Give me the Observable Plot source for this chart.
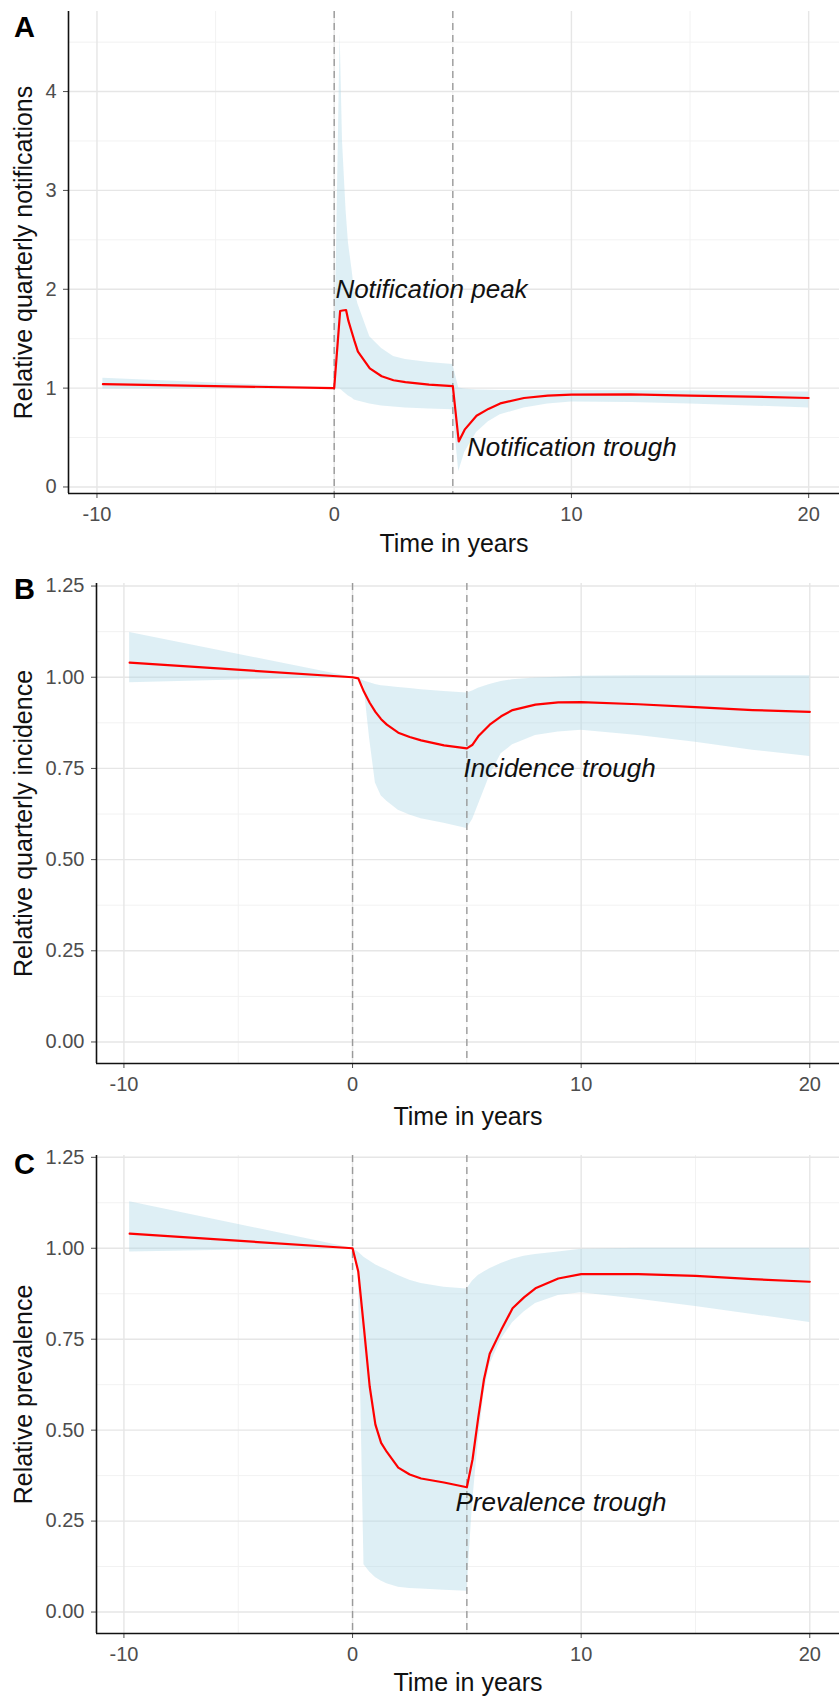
<!DOCTYPE html>
<html>
<head>
<meta charset="utf-8">
<script src="https://cdn.jsdelivr.net/npm/d3@7"></script>
<script src="https://cdn.jsdelivr.net/npm/@observablehq/plot@0.6"></script>
<style>
  html, body { margin: 0; padding: 0; background: white; }
  #chart svg { display: block; }
</style>
</head>
<body>
<div id="chart"></div>
<script>
// ---- shared axis values ----
const xMajor = [-10, 0, 10, 20];
const xMinor = [-5, 5, 15];
const interventionLines = [0, 5];
const xLabel = "Time in years";

// ---- Panel A: notifications ----
const aTime = [-9.75, 0, 0.25, 0.35, 0.5, 0.6, 0.75, 0.85, 1, 1.5, 2, 2.5, 3, 4, 5, 5.25, 5.5, 6, 6.5, 7, 8, 9, 10, 12.5, 15, 17.5, 20];
const aMid  = [1.04, 1.0, 1.78, 1.785, 1.79, 1.68, 1.56, 1.48, 1.37, 1.2, 1.12, 1.08, 1.06, 1.035, 1.02, 0.46, 0.58, 0.72, 0.79, 0.845, 0.9, 0.925, 0.935, 0.937, 0.925, 0.915, 0.90];
const aLow  = [0.99, 1.0, 0.99, 0.97, 0.94, 0.92, 0.9, 0.88, 0.87, 0.84, 0.82, 0.81, 0.8, 0.79, 0.78, 0.156, 0.35, 0.55, 0.66, 0.73, 0.8, 0.84, 0.86, 0.855, 0.84, 0.82, 0.80];
const aHigh = [1.10, 1.0, 4.59, 3.5, 2.8, 2.47, 2.2, 2.0, 1.85, 1.52, 1.4, 1.32, 1.29, 1.26, 1.24, 1.0, 0.99, 0.98, 0.978, 0.976, 0.975, 0.975, 0.975, 0.974, 0.97, 0.965, 0.96];
const aYMajor = [0, 1, 2, 3, 4];
const aYMinor = [0.5, 1.5, 2.5, 3.5, 4.5];
const aYLabel = "Relative quarterly notifications";
const aNotes = [{t: 0.05, v: 2.0, label: "Notification peak"}, {t: 5.6, v: 0.4, label: "Notification trough"}];

// ---- Panel B: incidence ----
const bTime = [-9.75, 0, 0.25, 0.5, 0.75, 1, 1.25, 1.5, 2, 2.5, 3, 4, 5, 5.25, 5.5, 6, 6.5, 7, 8, 9, 10, 12.5, 15, 17.5, 20];
const bMid  = [1.04, 1.0, 0.997, 0.96, 0.93, 0.905, 0.885, 0.87, 0.848, 0.836, 0.827, 0.813, 0.805, 0.815, 0.838, 0.87, 0.893, 0.91, 0.925, 0.931, 0.932, 0.926, 0.918, 0.91, 0.905];
const bLow  = [0.985, 1.0, 0.995, 0.975, 0.83, 0.71, 0.675, 0.66, 0.635, 0.622, 0.612, 0.60, 0.585, 0.61, 0.65, 0.73, 0.79, 0.815, 0.84, 0.85, 0.855, 0.84, 0.822, 0.80, 0.783];
const bHigh = [1.123, 1.0, 0.998, 0.99, 0.985, 0.98, 0.977, 0.975, 0.972, 0.969, 0.966, 0.961, 0.957, 0.962, 0.97, 0.98, 0.988, 0.993, 0.998, 1.0, 1.003, 1.004, 1.004, 1.004, 1.004];
const bcYMajor = [0, 0.25, 0.5, 0.75, 1, 1.25];
const bcYMinor = [0.125, 0.375, 0.625, 0.875, 1.125];
const bYLabel = "Relative quarterly incidence";
const bNotes = [{t: 4.85, v: 0.75, label: "Incidence trough"}];

// ---- Panel C: prevalence ----
const cTime = [-9.75, 0, 0.25, 0.5, 0.75, 1, 1.25, 1.5, 2, 2.5, 3, 4, 5, 5.25, 5.5, 5.75, 6, 6.5, 7, 7.5, 8, 9, 10, 12.5, 15, 17.5, 20];
const cMid  = [1.04, 1.0, 0.936, 0.78, 0.62, 0.515, 0.465, 0.44, 0.397, 0.378, 0.367, 0.356, 0.343, 0.42, 0.535, 0.64, 0.71, 0.775, 0.835, 0.865, 0.89, 0.917, 0.929, 0.929, 0.924, 0.915, 0.908];
const cLow  = [0.99, 1.0, 0.95, 0.13, 0.11, 0.095, 0.085, 0.078, 0.068, 0.065, 0.063, 0.06, 0.057, 0.30, 0.47, 0.60, 0.68, 0.75, 0.795, 0.825, 0.848, 0.87, 0.878, 0.86, 0.84, 0.818, 0.796];
const cHigh = [1.128, 1.0, 0.99, 0.975, 0.965, 0.955, 0.947, 0.94, 0.925, 0.912, 0.903, 0.893, 0.888, 0.91, 0.925, 0.935, 0.944, 0.958, 0.97, 0.978, 0.983, 0.99, 0.997, 1.0, 1.0, 1.0, 1.0];
const cYLabel = "Relative prevalence";
const cNotes = [{t: 4.5, v: 0.30, label: "Prevalence trough"}];

const FONT = "'Liberation Sans', Arial, Helvetica, sans-serif";
const X_DOMAIN = [-11.2, 21.3];

function panel(o) {
  const rows = o.time.map((t, i) => ({t, mid: o.mid[i], lo: o.lo[i], hi: o.hi[i]}));
  return Plot.plot({
    width: 839,
    height: o.height,
    marginTop: o.marginTop,
    marginBottom: o.marginBottom,
    marginLeft: o.marginLeft,
    marginRight: 0,
    style: {fontFamily: FONT, fontSize: "20px", color: "#4d4d4d", background: "white"},
    x: {domain: X_DOMAIN, ticks: xMajor, tickSize: 5, tickPadding: 8, tickFormat: d => String(d), label: null},
    y: {domain: o.yDomain, ticks: o.yMajor, tickSize: 5, tickPadding: 7, tickFormat: o.yFormat, label: null},
    marks: [
      Plot.ruleX(xMinor, {stroke: "#f2f2f2", strokeWidth: 1}),
      Plot.ruleY(o.yMinor, {stroke: "#f2f2f2", strokeWidth: 1}),
      Plot.ruleX(xMajor, {stroke: "#e6e6e6", strokeWidth: 1.4}),
      Plot.ruleY(o.yMajor, {stroke: "#e6e6e6", strokeWidth: 1.4}),
      Plot.areaY(rows, {x: "t", y1: "lo", y2: "hi", fill: "#ADD8E6", fillOpacity: 0.4}),
      Plot.ruleX(interventionLines, {stroke: "#9a9a9a", strokeWidth: 1.4, strokeDasharray: "7,5"}),
      Plot.line(rows, {x: "t", y: "mid", stroke: "#ff0000", strokeWidth: 2.2}),
      Plot.text(o.notes, {x: "t", y: "v", text: "label", textAnchor: "start", lineAnchor: "middle",
        fontStyle: "italic", fontSize: 26, fill: "#111"}),
      Plot.ruleX([X_DOMAIN[0]], {stroke: "#111", strokeWidth: 1.6}),
      Plot.ruleY([o.yDomain[0]], {stroke: "#111", strokeWidth: 1.6}),
      Plot.text([o.yLabel], {frameAnchor: "left", text: d => d, rotate: -90, dx: 23 - o.marginLeft,
        textAnchor: "middle", lineAnchor: "middle", fontSize: 25, fill: "#111"}),
      Plot.text([xLabel], {frameAnchor: "bottom", text: d => d, dy: o.xTitleDy,
        textAnchor: "middle", lineAnchor: "middle", fontSize: 25, fill: "#111"}),
      Plot.text([o.letter], {frameAnchor: "top-left", text: d => d, dx: 24 - o.marginLeft, dy: o.letterDy,
        textAnchor: "middle", lineAnchor: "middle", fontSize: 29, fontWeight: "bold", fill: "#000"})
    ]
  });
}

const chart = document.getElementById("chart");
chart.append(panel({
  time: aTime, mid: aMid, lo: aLow, hi: aHigh,
  height: 567, marginTop: 11, marginBottom: 74, marginLeft: 68,
  yDomain: [-0.066, 4.81], yMajor: aYMajor, yMinor: aYMinor, yFormat: d => String(d),
  yLabel: aYLabel, notes: aNotes, letter: "A", letterDy: 16, xTitleDy: 50
}));
chart.append(panel({
  time: bTime, mid: bMid, lo: bLow, hi: bHigh,
  height: 567, marginTop: 16, marginBottom: 71, marginLeft: 96,
  yDomain: [-0.059, 1.257], yMajor: bcYMajor, yMinor: bcYMinor, yFormat: d3.format(".2f"),
  yLabel: bYLabel, notes: bNotes, letter: "B", letterDy: 6, xTitleDy: 53
}));
chart.append(panel({
  time: cTime, mid: cMid, lo: cLow, hi: cHigh,
  height: 566, marginTop: 21, marginBottom: 67, marginLeft: 96,
  yDomain: [-0.059, 1.255], yMajor: bcYMajor, yMinor: bcYMinor, yFormat: d3.format(".2f"),
  yLabel: cYLabel, notes: cNotes, letter: "C", letterDy: 9, xTitleDy: 49
}));
</script>
</body>
</html>
